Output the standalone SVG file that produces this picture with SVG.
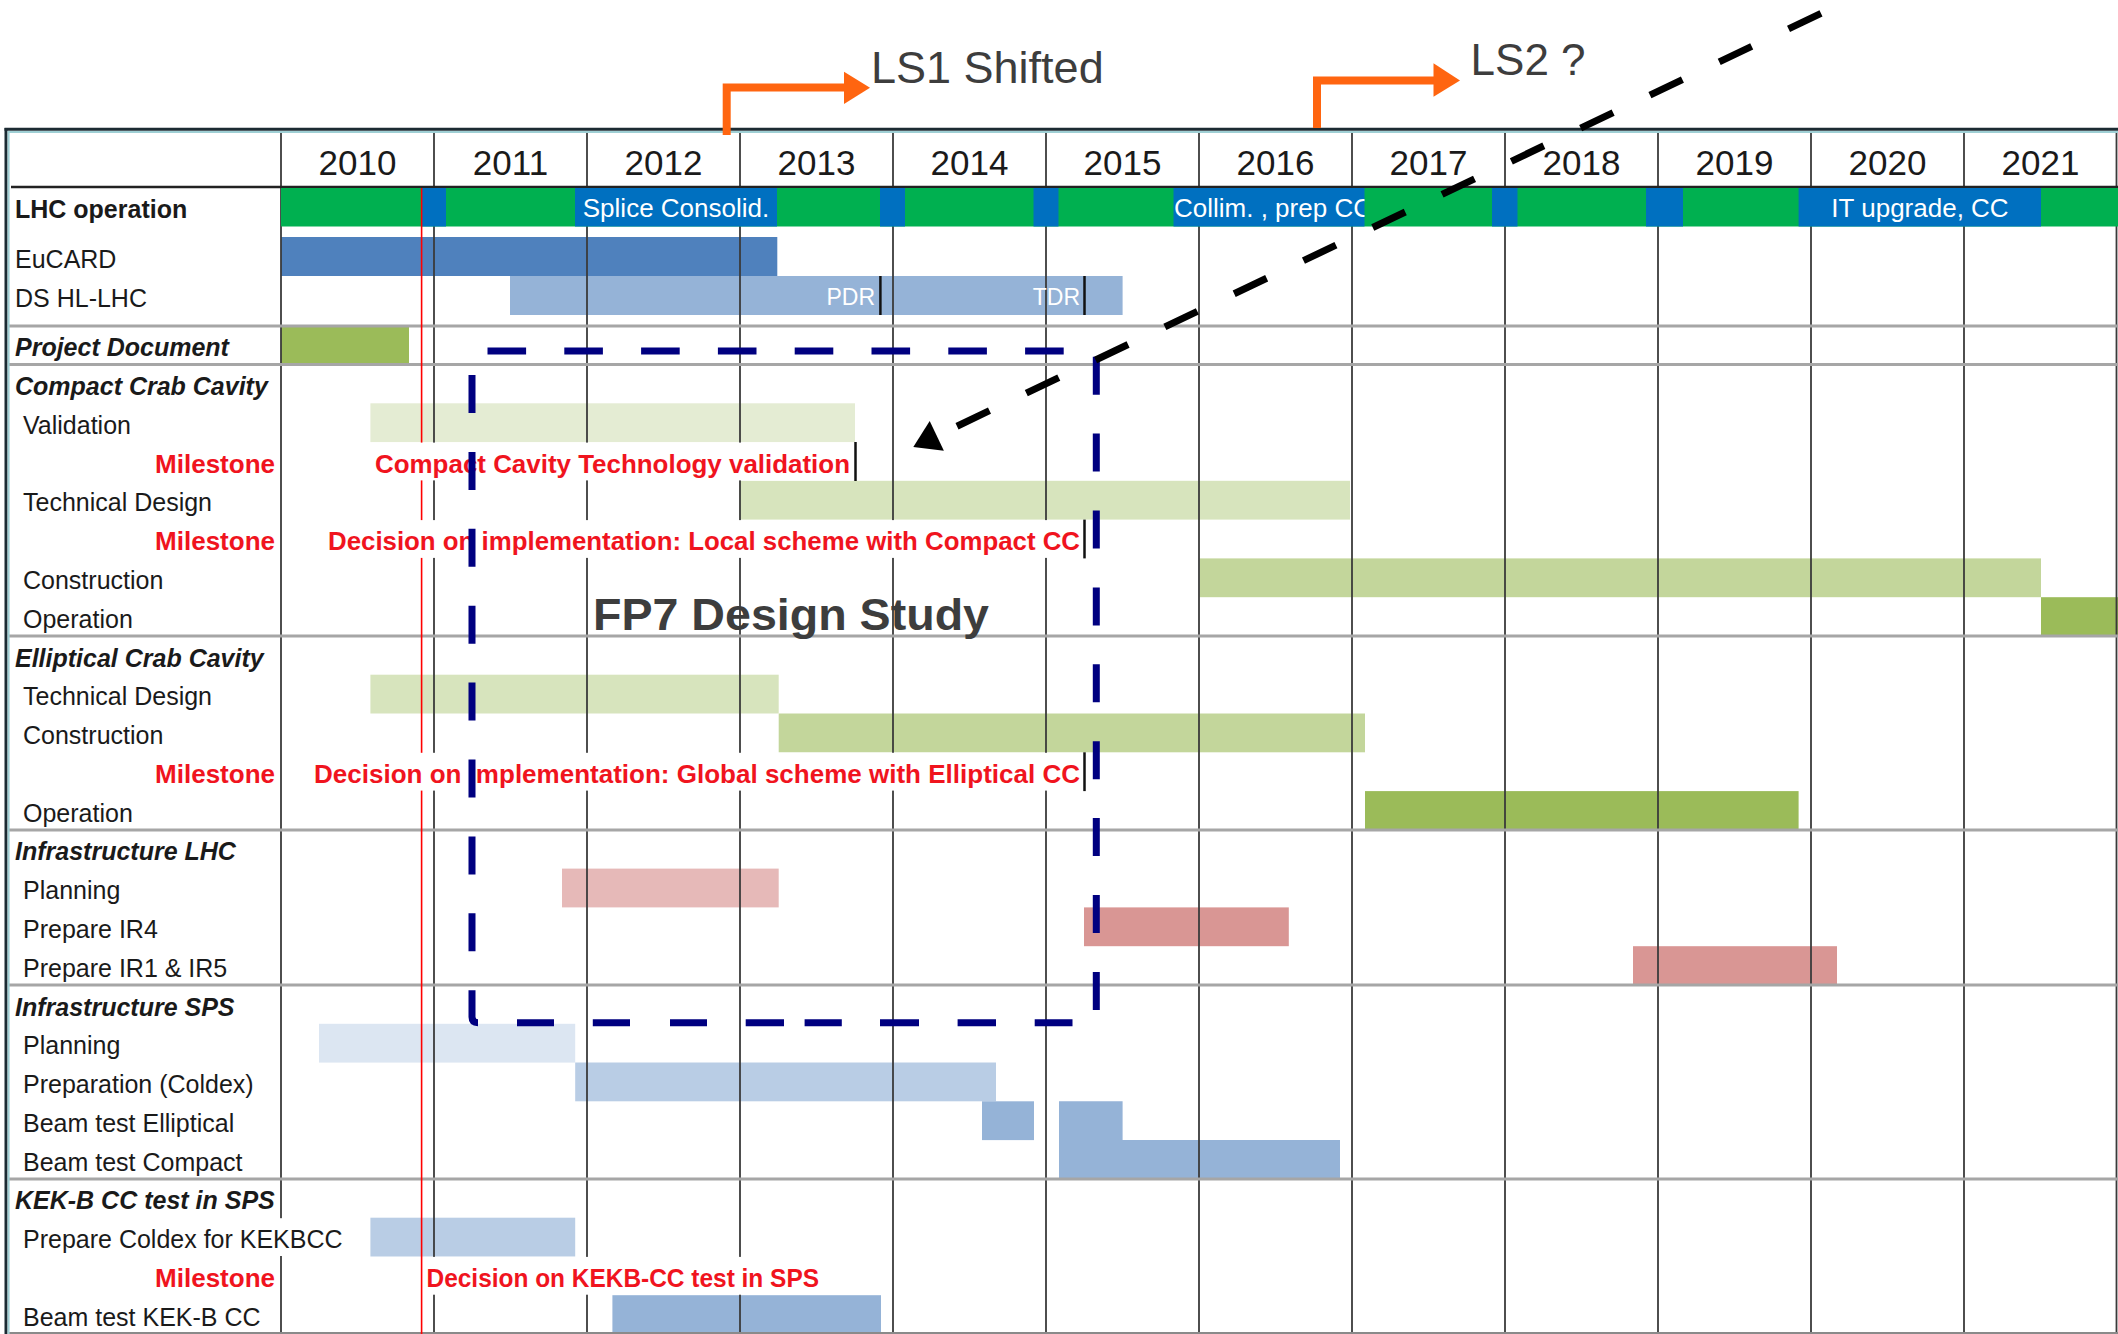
<svg xmlns="http://www.w3.org/2000/svg" width="2118" height="1334" viewBox="0 0 2118 1334">
<style>
text{font-family:"Liberation Sans",Arial,sans-serif}
.lbl{font-size:25px;fill:#1a1a1a}
.hdr{font-weight:bold;font-style:italic}
.bold{font-weight:bold}
.ms{font-size:26px;font-weight:bold;fill:#f0141e}
.msl{font-size:26px;font-weight:bold;fill:#f0141e;text-anchor:end}
.yr{font-size:35px;fill:#1a1a1a;text-anchor:middle}
.wt{font-size:26px;fill:#ffffff}
.wtm{font-size:26px;fill:#ffffff;text-anchor:middle}
.grid{stroke:#3a3a3a;stroke-width:1.8}
.sep{stroke:#a6a6a6;stroke-width:3}
.mk{stroke:#111;stroke-width:2.5}
.big{fill:#3d3d3d}
.orange{stroke:#ff6510;stroke-width:8;fill:none}
</style>
<defs>
<clipPath id="clipCollim"><rect x="1173.5" y="188" width="191" height="39"/></clipPath>
</defs>
<rect x="0" y="0" width="2118" height="1334" fill="#ffffff"/>

<g id="bars">
<rect x="281" y="237" width="496.3" height="39" fill="#4f81bd"/>
<rect x="510" y="276" width="612.6" height="39" fill="#95b3d7"/>
<rect x="281" y="326" width="128" height="38.5" fill="#9bbb59"/>
<rect x="370.4" y="403.3" width="484.6" height="38.8" fill="#e4ecd3"/>
<rect x="739.4" y="480.8" width="610.6" height="38.8" fill="#d7e4bd"/>
<rect x="1199.6" y="558.4" width="841.4" height="38.8" fill="#c3d69b"/>
<rect x="2041" y="597.2" width="77" height="38.8" fill="#9bbb59"/>
<rect x="370.4" y="674.7" width="408.3" height="38.8" fill="#d7e4bd"/>
<rect x="778.7" y="713.5" width="586.3" height="38.8" fill="#c3d69b"/>
<rect x="1365" y="791.1" width="433.6" height="38.8" fill="#9bbb59"/>
<rect x="562" y="868.6" width="216.7" height="38.8" fill="#e6b9b8"/>
<rect x="1084" y="907.4" width="204.8" height="38.8" fill="#d99694"/>
<rect x="1633" y="946.2" width="204" height="38.8" fill="#d99694"/>
<rect x="319" y="1023.8" width="256.2" height="38.8" fill="#dce6f2"/>
<rect x="575.2" y="1062.5" width="420.8" height="38.8" fill="#b9cde5"/>
<rect x="982" y="1101.3" width="52" height="38.8" fill="#95b3d7"/>
<path d="M1059 1101.3 H1122.6 V1140.1 H1340 V1178.9 H1059 Z" fill="#95b3d7"/>
<rect x="370.4" y="1217.7" width="204.8" height="38.8" fill="#b9cde5"/>
<rect x="612.4" y="1295.2" width="268.6" height="38.8" fill="#95b3d7"/>
</g>

<g id="grid">
<line class="grid" x1="281" y1="133" x2="281" y2="1334"/>
<line class="grid" x1="434" y1="133" x2="434" y2="1334"/>
<line class="grid" x1="587" y1="133" x2="587" y2="1334"/>
<line class="grid" x1="740" y1="133" x2="740" y2="1334"/>
<line class="grid" x1="893" y1="133" x2="893" y2="1334"/>
<line class="grid" x1="1046" y1="133" x2="1046" y2="1334"/>
<line class="grid" x1="1199" y1="133" x2="1199" y2="1334"/>
<line class="grid" x1="1352" y1="133" x2="1352" y2="1334"/>
<line class="grid" x1="1505" y1="133" x2="1505" y2="1334"/>
<line class="grid" x1="1658" y1="133" x2="1658" y2="1334"/>
<line class="grid" x1="1811" y1="133" x2="1811" y2="1334"/>
<line class="grid" x1="1964" y1="133" x2="1964" y2="1334"/>
<line class="grid" x1="2116.5" y1="133" x2="2116.5" y2="1334"/>
<line x1="11" y1="187" x2="2118" y2="187" stroke="#222" stroke-width="2.5"/>
<line class="sep" x1="9" y1="326" x2="2118" y2="326"/>
<line class="sep" x1="9" y1="364.5" x2="2118" y2="364.5"/>
<line class="sep" x1="9" y1="636" x2="2118" y2="636"/>
<line class="sep" x1="9" y1="829.9" x2="2118" y2="829.9"/>
<line class="sep" x1="9" y1="985" x2="2118" y2="985"/>
<line class="sep" x1="9" y1="1178.9" x2="2118" y2="1178.9"/>
<line x1="9" y1="1333" x2="2118" y2="1333" stroke="#8a8a8a" stroke-width="2"/>
</g>

<g id="lhc-operation">
<rect x="281" y="188" width="1837" height="38.5" fill="#00b050"/>
<rect x="421.5" y="188" width="24.5" height="38.5" fill="#0070c0"/>
<rect x="575" y="188" width="202" height="38.5" fill="#0070c0"/>
<rect x="880" y="188" width="25" height="38.5" fill="#0070c0"/>
<rect x="1033.5" y="188" width="25" height="38.5" fill="#0070c0"/>
<rect x="1173.5" y="188" width="191" height="38.5" fill="#0070c0"/>
<rect x="1492" y="188" width="25.5" height="38.5" fill="#0070c0"/>
<rect x="1646" y="188" width="37" height="38.5" fill="#0070c0"/>
<rect x="1798.6" y="188" width="242.4" height="38.5" fill="#0070c0"/>
<text class="wtm" x="676" y="217">Splice Consolid.</text>
<text class="wt" x="1174" y="217" clip-path="url(#clipCollim)">Collim. , prep CC</text>
<text class="wtm" x="1920" y="217">IT upgrade, CC</text>
</g>

<line id="today-line" x1="421.6" y1="188" x2="421.6" y2="1334" stroke="#ff0000" stroke-width="1.6"/>

<g id="ds-hl-lhc-marks">
<text class="wt" x="875" y="305" text-anchor="end" style="font-size:23px">PDR</text>
<text class="wt" x="1080" y="305" text-anchor="end" style="font-size:23px">TDR</text>
<line class="mk" x1="880.4" y1="276" x2="880.4" y2="315"/>
<line class="mk" x1="1084.5" y1="276" x2="1084.5" y2="315"/>
</g>

<g id="milestone-compact-validation">
<rect x="372" y="442.6" width="481" height="37.8" fill="#ffffff"/>
<text class="ms" x="375" y="472.6" textLength="475" lengthAdjust="spacingAndGlyphs">Compact Cavity Technology validation</text>
<line class="mk" x1="855.5" y1="442" x2="855.5" y2="481"/>
</g>
<g id="milestone-compact-decision">
<rect x="325" y="520.1" width="757" height="37.8" fill="#ffffff"/>
<text class="ms" x="328" y="550.1" textLength="752" lengthAdjust="spacingAndGlyphs">Decision on implementation: Local scheme with Compact CC</text>
<line class="mk" x1="1084.5" y1="519.6" x2="1084.5" y2="558.4"/>
</g>
<g id="milestone-elliptical-decision">
<rect x="311" y="752.8" width="771" height="37.8" fill="#ffffff"/>
<text class="ms" x="314" y="782.8" textLength="766" lengthAdjust="spacingAndGlyphs">Decision on implementation: Global scheme with Elliptical CC</text>
<line class="mk" x1="1084.5" y1="752.3" x2="1084.5" y2="791.1"/>
</g>
<g id="milestone-kekb">
<rect x="424" y="1256.9" width="398" height="37.8" fill="#ffffff"/>
<text class="ms" x="426.5" y="1286.9" textLength="392.5" lengthAdjust="spacingAndGlyphs">Decision on KEKB-CC test in SPS</text>
</g>

<g id="years">
<text class="yr" x="357.5" y="175">2010</text>
<text class="yr" x="510.5" y="175">2011</text>
<text class="yr" x="663.5" y="175">2012</text>
<text class="yr" x="816.5" y="175">2013</text>
<text class="yr" x="969.5" y="175">2014</text>
<text class="yr" x="1122.5" y="175">2015</text>
<text class="yr" x="1275.5" y="175">2016</text>
<text class="yr" x="1428.5" y="175">2017</text>
<text class="yr" x="1581.5" y="175">2018</text>
<text class="yr" x="1734.5" y="175">2019</text>
<text class="yr" x="1887.5" y="175">2020</text>
<text class="yr" x="2040.5" y="175">2021</text>
</g>

<g id="labels">
<rect x="276" y="1218.2" width="76" height="37.8" fill="#ffffff"/>
<text class="lbl bold" x="15" y="218">LHC operation</text>
<text class="lbl" x="15" y="268">EuCARD</text>
<text class="lbl" x="15" y="306.5">DS HL-LHC</text>
<text class="lbl hdr" x="15" y="356">Project Document</text>
<text class="lbl hdr" x="15" y="395">Compact Crab Cavity</text>
<text class="lbl" x="23" y="433.8">Validation</text>
<text class="msl" x="275" y="472.6">Milestone</text>
<text class="lbl" x="23" y="511.3">Technical Design</text>
<text class="msl" x="275" y="550.1">Milestone</text>
<text class="lbl" x="23" y="588.9">Construction</text>
<text class="lbl" x="23" y="627.7">Operation</text>
<text class="lbl hdr" x="15" y="666.5">Elliptical Crab Cavity</text>
<text class="lbl" x="23" y="705.2">Technical Design</text>
<text class="lbl" x="23" y="744">Construction</text>
<text class="msl" x="275" y="782.8">Milestone</text>
<text class="lbl" x="23" y="821.6">Operation</text>
<text class="lbl hdr" x="15" y="860.4">Infrastructure LHC</text>
<text class="lbl" x="23" y="899.1">Planning</text>
<text class="lbl" x="23" y="937.9">Prepare IR4</text>
<text class="lbl" x="23" y="976.7">Prepare IR1 &amp; IR5</text>
<text class="lbl hdr" x="15" y="1015.5">Infrastructure SPS</text>
<text class="lbl" x="23" y="1054.3">Planning</text>
<text class="lbl" x="23" y="1093">Preparation (Coldex)</text>
<text class="lbl" x="23" y="1131.8">Beam test Elliptical</text>
<text class="lbl" x="23" y="1170.6">Beam test Compact</text>
<text class="lbl hdr" x="15" y="1209.4">KEK-B CC test in SPS</text>
<text class="lbl" x="23" y="1248.2">Prepare Coldex for KEKBCC</text>
<text class="msl" x="275" y="1286.9">Milestone</text>
<text class="lbl" x="23" y="1325.7">Beam test KEK-B CC</text>
</g>

<g id="table-border">
<line x1="4.5" y1="129.3" x2="2118" y2="129.3" stroke="#1c2b33" stroke-width="3"/>
<line x1="6" y1="128" x2="6" y2="1334" stroke="#1c2b33" stroke-width="3"/>
<line x1="8" y1="132" x2="2118" y2="132" stroke="#9fcfd4" stroke-width="2"/>
<line x1="8.6" y1="131" x2="8.6" y2="1334" stroke="#9fcfd4" stroke-width="2"/>
</g>

<g id="fp7-design-study">
<path d="M487.5 351h38.6M564.3 351h38.6M641.1 351h38.6M717.9 351h38.6M794.7 351h38.6M871.5 351h38.6M948.3 351h38.6M1025.1 351h38.6
M1096.3 356.7v38M1096.3 433.6v38M1096.3 510.5v38M1096.3 587.4v38M1096.3 664.3v38M1096.3 741.2v38M1096.3 818.1v38M1096.3 895v38M1096.3 971.9v38
M472 375v38M472 451.9v38M472 528.8v38M472 605.7v38M472 682.6v38M472 759.5v38M472 836.4v38M472 913.3v38M472 990.2V1017Q472 1022.7 478 1022.7
M517 1022.7H554M592.8 1022.7H630M670 1022.7H707M745.7 1022.7H784M804.6 1022.7H841.8M880 1022.7H919M957.6 1022.7H996M1034.7 1022.7H1072.5" fill="none" stroke="#000080" stroke-width="7"/>
<text class="big bold" x="593" y="630" style="font-size:45px" textLength="396" lengthAdjust="spacingAndGlyphs">FP7 Design Study</text>
</g>

<g id="connectors">
<path d="M1821 13.3 L936.8 435.9" fill="none" stroke="#000000" stroke-width="7" stroke-dasharray="36 40.8"/>
<polygon points="913.3,447.1 943.9,450.8 929.7,421" fill="#000000"/>
<path class="orange" d="M726.7 135 V87.5 H846"/>
<polygon points="870,87.7 844,71.7 844,104" fill="#ff6510"/>
<path class="orange" d="M1317 128 V80.5 H1436"/>
<polygon points="1460,80.5 1433.5,63.3 1433.5,96.7" fill="#ff6510"/>
</g>

<g id="ls-labels">
<text class="big" x="871" y="83" style="font-size:45px">LS1 Shifted</text>
<text class="big" x="1470.6" y="75" style="font-size:44px">LS2 ?</text>
</g>
</svg>
